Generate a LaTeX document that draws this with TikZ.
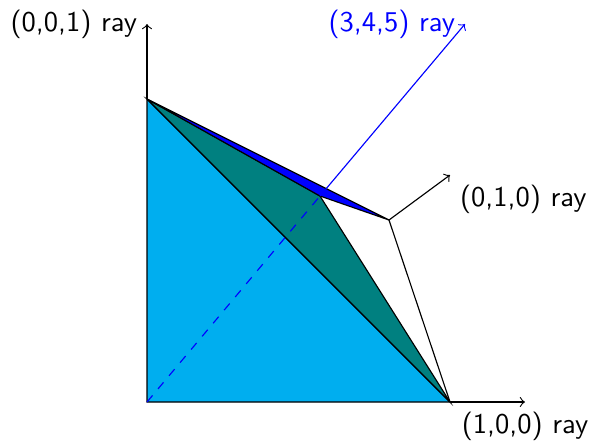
\documentclass[tikz,border=0pt]{standalone}
\usepackage{tikz}
\definecolor{facecyan}{RGB}{0,174,239}
\begin{document}
\begin{tikzpicture}[x=0.35pt,y=-0.35pt,font=\sffamily,
    raylabel/.style={inner sep=3.33pt}]
  \useasboundingbox (0,0) rectangle (591,441);

  % hjørner av kjeglen
  \coordinate (O) at (147,402);
  \coordinate (Z) at (147,99);
  \coordinate (X) at (450,402);
  \coordinate (Y) at (389,220);
  \coordinate (P) at (320,196);

  % spissene til strålene
  \coordinate (Ztip) at (147,24);
  \coordinate (Xtip) at (525,402);
  \coordinate (Ytip) at (450,175);
  \coordinate (Rtip) at (465,24);

  % flatene
  \filldraw[fill=facecyan, draw=black] (O) -- (Z) -- (X) -- cycle;
  \filldraw[fill=teal, draw=black] (Z) -- (P) -- (X) -- cycle;
  \filldraw[fill=blue, draw=black] (Z) -- (P) -- (Y) -- cycle;
  \draw (Y) -- (X);

  % strålene
  \draw[->] (Z) -- (Ztip);
  \draw[->] (X) -- (Xtip);
  \draw[->] (Y) -- (Ytip);
  \draw[blue, dashed] (O) -- (P);
  \draw[blue, ->] (P) -- (Rtip);

  \node[raylabel, left] (lz) at (Ztip) {(0,0,1) ray};
  \node[raylabel, below] (lx) at (Xtip) {(1,0,0) ray};
  \node[raylabel, below right] (ly) at (Ytip) {(0,1,0) ray};
  \node[raylabel, left, text=blue] (lr) at (Rtip) {(3,4,5) ray};
\end{tikzpicture}
\end{document}
